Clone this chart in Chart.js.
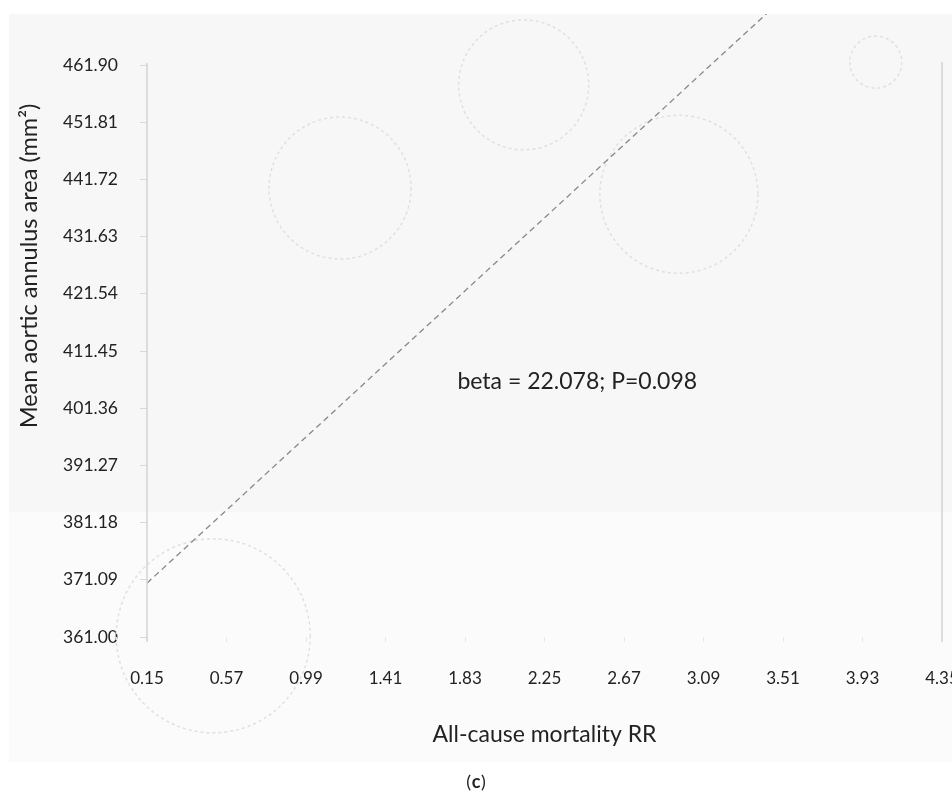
<!DOCTYPE html>
<html>
<head>
<meta charset="utf-8">
<script src="https://cdn.jsdelivr.net/npm/chart.js@4.4.1/dist/chart.umd.min.js"></script>
<style>
  html, body { margin: 0; padding: 0; background: #fff; }
</style>
</head>
<body>
<canvas id="bubbleChart" width="952" height="805"></canvas>
<script>
// tick labels as printed on the figure
const xTicks = [0.15, 0.57, 0.99, 1.41, 1.83, 2.25, 2.67, 3.09, 3.51, 3.93, 4.35];
const yTicks = [361.00, 371.09, 381.18, 391.27, 401.36, 411.45, 421.54, 431.63, 441.72, 451.81, 461.90];

// one bubble per study
const studyRR = [0.50, 1.17, 2.14, 2.96, 4.00];
const studyArea = [361.2, 440.2, 458.4, 439.1, 462.4];
const studyWeight = [97, 71, 65, 79, 26];

// meta-regression fit line
const fitX = [0.15, 4.35];
const fitY = [370.5, 499.4];

const labelFont = "Lato, 'Open Sans', sans-serif";

const bubbles = studyRR.map((v, i) => ({ x: v, y: studyArea[i], r: studyWeight[i] }));
const fitLine = fitX.map((v, i) => ({ x: v, y: fitY[i] }));

const decor = {
    id: "decor",
    beforeDraw(chart) {
        const c = chart.ctx;
        c.save();
        c.fillStyle = "#ffffff";
        c.fillRect(0, 0, chart.width, chart.height);
        c.fillStyle = "#fbfbfb";
        c.fillRect(9, 14, chart.width - 9, 748);
        c.fillStyle = "#f7f7f7";
        c.fillRect(9, 14, chart.width - 9, 498);
        c.restore();
    },
    beforeDatasetDraw(chart, args) {
        if (args.meta.type === "bubble") {
            chart.ctx.save();
            chart.ctx.setLineDash([3, 3]);
        }
    },
    afterDatasetDraw(chart, args) {
        if (args.meta.type === "bubble") chart.ctx.restore();
    },
    afterDraw(chart) {
        const c = chart.ctx;
        const xs = chart.scales.x, ys = chart.scales.y;
        const top = ys.getPixelForValue(yTicks[yTicks.length - 1]);
        const bottom = ys.getPixelForValue(yTicks[0]) + 5;
        c.save();
        // side lines
        c.strokeStyle = "#d4d4d4";
        c.lineWidth = 1.5;
        c.beginPath();
        c.moveTo(xs.getPixelForValue(xTicks[0]), top - 2);
        c.lineTo(xs.getPixelForValue(xTicks[0]), bottom);
        c.moveTo(xs.getPixelForValue(xTicks[xTicks.length - 1]), top - 3);
        c.lineTo(xs.getPixelForValue(xTicks[xTicks.length - 1]), bottom);
        c.stroke();

        c.fillStyle = "#222";
        c.textBaseline = "middle";
        // annotation
        c.font = "23px " + labelFont;
        c.textAlign = "left";
        c.fillText("beta = 22.078; P=0.098", xs.getPixelForValue(1.79), ys.getPixelForValue(406.0));

        // axis titles
        c.font = "23px " + labelFont;
        c.textAlign = "center";
        c.fillText("All-cause mortality RR", (chart.chartArea.left + chart.chartArea.right) / 2, 735);
        c.save();
        c.translate(29, 266);
        c.rotate(-Math.PI / 2);
        c.font = "23.5px " + labelFont;
        c.fillText("Mean aortic annulus area (mm²)", 0, 0);
        c.restore();

        // panel letter
        c.font = "18px " + labelFont;
        c.textAlign = "right";
        c.fillText("(", 471, 782);
        c.font = "bold 18px " + labelFont;
        c.textAlign = "center";
        c.fillText("c", 476, 782);
        c.font = "18px " + labelFont;
        c.textAlign = "left";
        c.fillText(")", 481, 782);
        c.restore();
    }
};

new Chart(document.getElementById("bubbleChart"), {
    type: "bubble",
    data: {
        datasets: [
            {
                type: "line",
                label: "fit",
                data: fitLine,
                borderColor: "#888888",
                borderWidth: 1.3,
                borderDash: [6, 4],
                pointRadius: 0,
                fill: false,
            },
            {
                label: "studies",
                data: bubbles,
                backgroundColor: "rgba(0,0,0,0)",
                borderColor: "#e0e0e0",
                borderWidth: 1.5,
                clip: false,
            },
        ],
    },
    options: {
        responsive: false,
        animation: false,
        layout: {
            autoPadding: false,
            padding: { top: 14, right: 10, left: 0, bottom: 0 },
        },
        plugins: {
            legend: { display: false },
            tooltip: { enabled: false },
        },
        scales: {
            x: {
                type: "linear",
                min: 0.15,
                max: 4.35,
                afterBuildTicks: (s) => { s.ticks = xTicks.map((v) => ({ value: v })); },
                afterFit: (s) => {
                    s.height = 168;
                    s.paddingLeft = 0;
                    s.paddingRight = 0;
                },
                ticks: {
                    callback: (v) => v.toFixed(2),
                    color: "#222",
                    font: { family: labelFont, size: 17 },
                    padding: 26,
                    maxRotation: 0,
                    autoSkip: false,
                },
                grid: { drawOnChartArea: false, drawTicks: true, tickLength: 5, tickColor: "#e8e8e8" },
                border: { display: false },
            },
            y: {
                type: "linear",
                min: 361,
                max: 470.9,
                afterBuildTicks: (s) => { s.ticks = yTicks.map((v) => ({ value: v })); },
                afterFit: (s) => {
                    s.width = 147;
                    s.paddingTop = 0;
                    s.paddingBottom = 0;
                },
                ticks: {
                    callback: (v) => v.toFixed(2),
                    color: "#222",
                    font: { family: labelFont, size: 17.5 },
                    padding: 22,
                    autoSkip: false,
                },
                grid: { drawOnChartArea: false, drawTicks: true, tickLength: 7, tickColor: "#d8d8d8" },
                border: { display: false },
            },
        },
    },
    plugins: [decor],
});
</script>
</body>
</html>
